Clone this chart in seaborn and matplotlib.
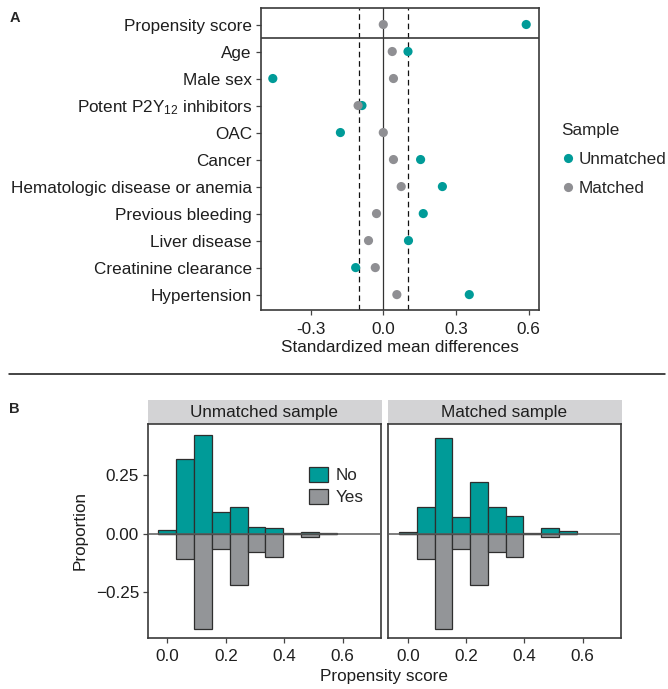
import numpy as np
import pandas as pd
import matplotlib
matplotlib.use("Agg")
import matplotlib.pyplot as plt
import seaborn as sns
from matplotlib.lines import Line2D
from matplotlib.patches import Patch, Rectangle

# ---------------- data: panel A ----------------
covariates = ["Propensity score", "Age", "Male sex", "Potent P2Y$_{12}$ inhibitors", "OAC",
              "Cancer", "Hematologic disease or anemia", "Previous bleeding", "Liver disease",
              "Creatinine clearance", "Hypertension"]
smd_unmatched = [0.590, 0.102, -0.456, -0.088, -0.177, 0.154, 0.244, 0.165, 0.104, -0.114, 0.355]
smd_matched = [0.000, 0.037, 0.042, -0.104, 0.000, 0.042, 0.074, -0.028, -0.061, -0.033, 0.056]
sample_levels = ["Unmatched", "Matched"]
smd_ticks = [-0.3, 0.0, 0.3, 0.6]
smd_tick_labels = ["-0.3", "0.0", "0.3", "0.6"]

# ---------------- data: panel B ----------------
bin_centers = [0.000, 0.061, 0.122, 0.183, 0.244, 0.305, 0.366, 0.427, 0.488, 0.549]
unmatched_no = [0.014, 0.318, 0.419, 0.094, 0.115, 0.028, 0.023, 0.003, 0.009, 0.002]
unmatched_yes = [0.000, -0.109, -0.405, -0.065, -0.217, -0.080, -0.101, -0.003, -0.016, 0.000]
matched_no = [0.007, 0.114, 0.408, 0.070, 0.222, 0.114, 0.077, 0.002, 0.023, 0.013]
matched_yes = [0.000, -0.109, -0.405, -0.065, -0.217, -0.080, -0.101, -0.003, -0.016, 0.000]
facet_titles = ["Unmatched sample", "Matched sample"]
group_labels = ["No", "Yes"]
ps_ticks = [0.0, 0.2, 0.4, 0.6]
ps_tick_labels = ["0.0", "0.2", "0.4", "0.6"]
prop_ticks = [-0.25, 0.0, 0.25]
prop_tick_labels = ["\u22120.25", "0.00", "0.25"]

# ---------------- style ----------------
sns.set_theme(style="ticks")
plt.rcParams["font.family"] = ["Liberation Sans", "DejaVu Sans"]
plt.rcParams["mathtext.default"] = "regular"
plt.rcParams["mathtext.fontset"] = "custom"
plt.rcParams["mathtext.rm"] = "Liberation Sans"

TEAL = "#009B98"
GREY_PT = "#8F8F93"
GREY_BAR = "#939598"
FRAME = "#3a3a3a"
TXT = "#1e1e1e"
FS = 12.3

W, H = 668, 689
fig = plt.figure(figsize=(W / 100, H / 100), dpi=100)


def rect(l, t, r, b):
    return [l / W, 1 - b / H, (r - l) / W, (b - t) / H]


def style_frame(ax):
    for s in ax.spines.values():
        s.set_visible(True)
        s.set_color(FRAME)
        s.set_linewidth(1.2)


# ---------------- panel A ----------------
axA = fig.add_axes(rect(260.7, 8.3, 539.3, 310))
n = len(covariates)
dfA = pd.DataFrame({
    "covariate": covariates * 2,
    "smd": smd_unmatched + smd_matched,
    "sample": [sample_levels[0]] * n + [sample_levels[1]] * n,
})
axA.axvline(0, color="#333333", lw=0.9, zorder=0)
for v in (-0.1, 0.1):
    axA.axvline(v, color="#111111", lw=0.9, ls=(0, (4.5, 3)), zorder=0)
axA.axhline(0.5, color=FRAME, lw=1.2, zorder=1)
sns.stripplot(data=dfA, x="smd", y="covariate", hue="sample", hue_order=sample_levels,
              palette=[TEAL, GREY_PT], jitter=False, size=6.6, linewidth=0,
              orient="h", legend=False, ax=axA, zorder=3)
axA.set_xlim(-0.506, 0.644)
axA.set_ylim(n - 1 + 0.57, -0.6)
axA.set_xticks(smd_ticks)
axA.set_xticklabels(smd_tick_labels)
axA.set_xlabel("Standardized mean differences", fontsize=FS, color=TXT, labelpad=2)
axA.set_ylabel("")
axA.tick_params(axis="both", length=3.6, width=0.9, color="#444444", labelsize=FS,
                labelcolor=TXT, pad=2.7)
axA.tick_params(axis="x", pad=5)
style_frame(axA)

legA_handles = [Line2D([], [], marker="o", ls="", color=c, markersize=6.6, markeredgewidth=0)
                for c in (TEAL, GREY_PT)]
fig.legend(legA_handles, sample_levels, title="Sample", loc="upper left",
           bbox_to_anchor=(561 / W, 1 - 123.5 / H), frameon=False, fontsize=FS,
           title_fontsize=FS, handlelength=0.8, handletextpad=0.25, labelspacing=0.8,
           borderpad=0, borderaxespad=0, alignment="left")

# ---------------- divider & panel letters ----------------
fig.add_artist(Line2D([9.3 / W, 665 / W], [1 - 374.3 / H] * 2, color="#111111", lw=1.1))
fig.text(9.5 / W, 1 - 18.3 / H, "A", fontsize=10.5, fontweight="bold", ha="left", va="center")
fig.text(9.5 / W, 1 - 409 / H, "B", fontsize=10.5, fontweight="bold", ha="left", va="center")

# ---------------- panel B ----------------
panel_rects = [(147.7, 424.3, 380.7, 637.7), (388.3, 424.3, 620.7, 637.7)]
series = [(unmatched_no, unmatched_yes), (matched_no, matched_yes)]
for i, (pr, (no_vals, yes_vals), title) in enumerate(zip(panel_rects, series, facet_titles)):
    ax = fig.add_axes(rect(*pr))
    sns.barplot(x=bin_centers, y=no_vals, native_scale=True, width=1, color=TEAL,
                saturation=1, edgecolor="#2e2e2e", linewidth=0.9, errorbar=None, ax=ax)
    sns.barplot(x=bin_centers, y=yes_vals, native_scale=True, width=1, color=GREY_BAR,
                saturation=1, edgecolor="#2e2e2e", linewidth=0.9, errorbar=None, ax=ax)
    ax.axhline(0, color="#5a5a5a", lw=1.1, zorder=5)
    ax.set_xlim(-0.067, 0.73)
    ax.set_ylim(-0.443, 0.466)
    ax.set_xticks(ps_ticks)
    ax.set_xticklabels(ps_tick_labels)
    ax.set_xlabel("")
    ax.set_ylabel("")
    ax.tick_params(axis="both", length=3.6, width=0.9, color="#444444", labelsize=FS,
                   labelcolor=TXT, pad=2.7)
    ax.tick_params(axis="x", pad=4.5)
    if i == 0:
        ax.set_yticks(prop_ticks)
        ax.set_yticklabels(prop_tick_labels)
        legB_handles = [Patch(facecolor=c, edgecolor="#2e2e2e", linewidth=0.9)
                        for c in (TEAL, GREY_BAR)]
        ax.legend(legB_handles, group_labels, loc="upper left", bbox_to_anchor=(0.694, 0.80),
                  frameon=False, fontsize=FS, handlelength=1.06, handleheight=1.0,
                  handletextpad=0.5, labelspacing=0.3, borderpad=0, borderaxespad=0)
    else:
        ax.set_yticks(prop_ticks)
        ax.tick_params(axis="y", left=False, labelleft=False)
    style_frame(ax)
    l, t, r, b = pr
    fig.add_artist(Rectangle((l / W, 1 - 424.3 / H), (r - l + 1.3) / W, 24.3 / H,
                             transform=fig.transFigure, facecolor="#D3D3D5",
                             edgecolor="none", zorder=0))
    fig.text((l + r) / 2 / W, 1 - 412.5 / H, title, fontsize=FS, color=TXT,
             ha="center", va="center")

fig.text(384.2 / W, 1 - 676.7 / H, "Propensity score", fontsize=FS, color=TXT,
         ha="center", va="center")
fig.text(80 / W, 1 - 531 / H, "Proportion", fontsize=FS, color=TXT, rotation=90,
         ha="center", va="center")

fig.savefig("out.png", dpi=100)
